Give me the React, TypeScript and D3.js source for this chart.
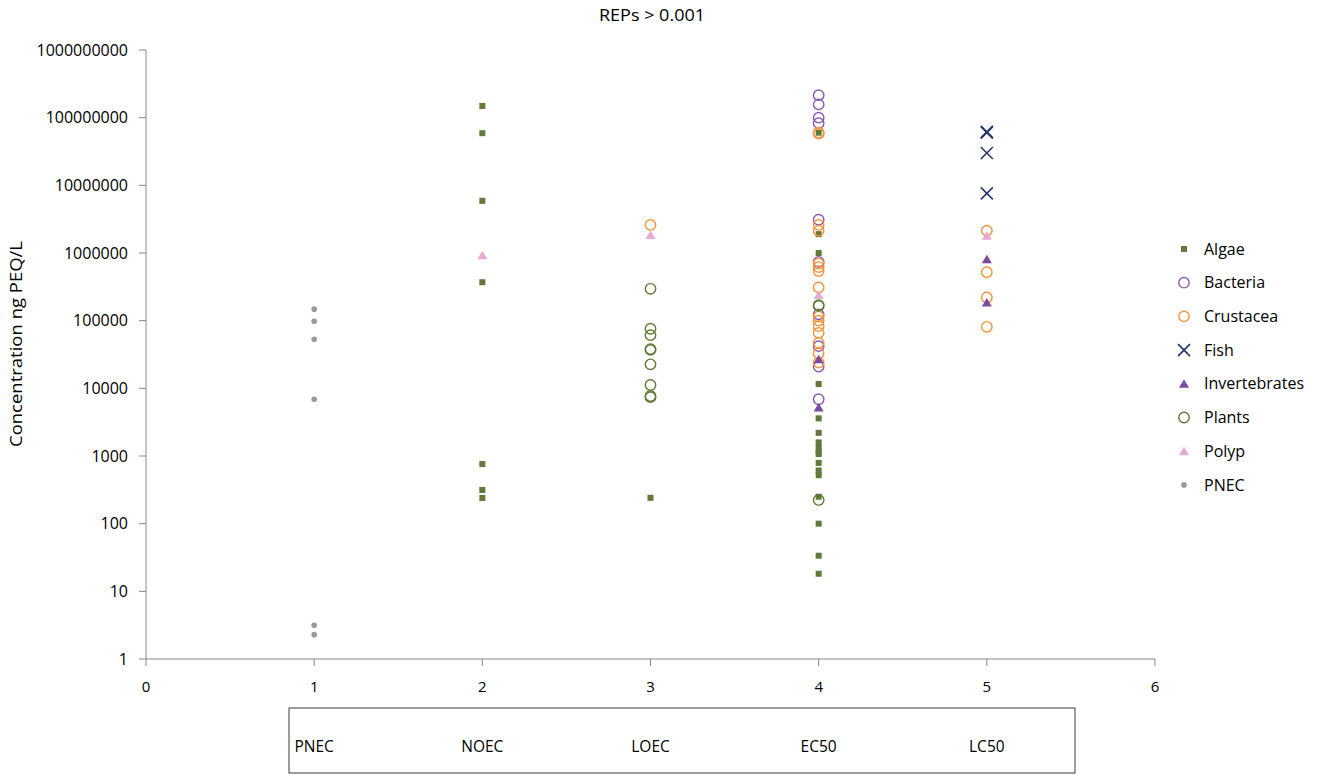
import * as d3 from 'd3';

// categories on the x axis (box under the chart)
const categories = ['PNEC', 'NOEC', 'LOEC', 'EC50', 'LC50'];
const yTicks = [1, 10, 100, 1000, 10000, 100000, 1000000, 10000000, 100000000, 1000000000];
const xTicks = [0, 1, 2, 3, 4, 5, 6];

// [x category, concentration ng PEQ/L]
const algae: [number, number][] = [
  [2, 1.49e8], [2, 5.9e7], [2, 5.9e6], [2, 3.7e5], [2, 760], [2, 315], [2, 240],
  [3, 241],
  [4, 6.0e7], [4, 1.9e6], [4, 1.0e6], [4, 11600], [4, 3600], [4, 2200], [4, 1590], [4, 1350],
  [4, 1150], [4, 1070], [4, 790], [4, 610], [4, 520], [4, 250], [4, 100], [4, 33.6], [4, 18.2],
];
const bacteria: [number, number][] = [
  [4, 2.15e8], [4, 1.57e8], [4, 1.0e8], [4, 8.3e7], [4, 3.1e6], [4, 7.4e5], [4, 1.24e5],
  [4, 4.2e4], [4, 2.1e4], [4, 6900],
];
const crustacea: [number, number][] = [
  [3, 2.6e6],
  [4, 6.0e7], [4, 5.8e7], [4, 2.6e6], [4, 2.14e6], [4, 7.0e5], [4, 6.2e5], [4, 5.4e5], [4, 3.1e5],
  [4, 1.15e5], [4, 1.0e5], [4, 8.3e4], [4, 6.6e4], [4, 4.7e4], [4, 3.3e4], [4, 2.4e4],
  [5, 2.14e6], [5, 5.2e5], [5, 2.2e5], [5, 8.1e4],
];
const fish: [number, number][] = [[5, 6.0e7], [5, 6.2e7], [5, 3.0e7], [5, 7.6e6]];
const invertebrates: [number, number][] = [[4, 2.7e4], [4, 5200], [5, 8.1e5], [5, 1.86e5]];
const plants: [number, number][] = [
  [3, 2.96e5], [3, 7.6e4], [3, 6.1e4], [3, 3.8e4], [3, 3.7e4], [3, 2.26e4], [3, 1.12e4], [3, 7700], [3, 7400],
  [4, 1.7e5], [4, 1.65e5], [4, 224],
];
const polyp: [number, number][] = [[2, 9.3e5], [3, 1.85e6], [4, 2.4e5], [5, 1.8e6]];
const pnec: [number, number][] = [[1, 1.48e5], [1, 9.8e4], [1, 5.3e4], [1, 6900], [1, 3.15], [1, 2.29]];

type Shape = 'square' | 'circle' | 'x' | 'triangle' | 'dot';
const series: { name: string; data: [number, number][]; shape: Shape; color: string }[] = [
  { name: 'Algae', data: algae, shape: 'square', color: '#61793a' },
  { name: 'Bacteria', data: bacteria, shape: 'circle', color: '#8b57b3' },
  { name: 'Crustacea', data: crustacea, shape: 'circle', color: '#f79238' },
  { name: 'Fish', data: fish, shape: 'x', color: '#22386b' },
  { name: 'Invertebrates', data: invertebrates, shape: 'triangle', color: '#7d4a9f' },
  { name: 'Plants', data: plants, shape: 'circle', color: '#5f7a35' },
  { name: 'Polyp', data: polyp, shape: 'triangle', color: '#e8a9d2' },
  { name: 'PNEC', data: pnec, shape: 'dot', color: '#9a9a9a' },
];

const W = 1321;
const H = 775;
const FONT = '"Open Sans", sans-serif';
const AXIS = '#878787';

function Marker({ shape, color, x, y }: { shape: Shape; color: string; x: number; y: number }) {
  const t = `translate(${x},${y})`;
  if (shape === 'square') return <rect transform={t} x={-3} y={-3} width={6} height={6} fill={color} />;
  if (shape === 'circle')
    return <circle transform={t} r={5.2} fill="none" stroke={color} strokeWidth={1.4} />;
  if (shape === 'dot') return <circle transform={t} r={2.8} fill={color} />;
  if (shape === 'triangle') return <path transform={t} d="M0,-4.5L5,4L-5,4Z" fill={color} />;
  return <path transform={t} d="M-6,-6L6,6M-6,6L6,-6" stroke={color} strokeWidth={1.6} fill="none" />;
}

export default function App() {
  const x = d3.scaleLinear().domain([0, 6]).range([146, 1155]);
  const y = d3.scaleLog().domain([1, 1e9]).range([659, 50]);

  return (
    <svg width={W} height={H} style={{ position: 'absolute', left: 0, top: 0, background: '#fff' }} fontFamily={FONT}>
      <text x={652} y={21} textAnchor="middle" fontSize={16} textLength={106} lengthAdjust="spacingAndGlyphs" fill="#000">
        REPs &gt; 0.001
      </text>

      {/* y axis */}
      <line x1={146} x2={146} y1={y(1e9)} y2={y(1)} stroke={AXIS} />
      {yTicks.map((t) => (
        <g key={t}>
          <line x1={139} x2={146} y1={y(t)} y2={y(t)} stroke={AXIS} />
          <text x={128} y={y(t)} dy="0.35em" textAnchor="end" fontSize={16} fill="#000">{t}</text>
        </g>
      ))}
      <text transform="translate(22,344) rotate(-90)" textAnchor="middle" fontSize={15.5} textLength={206} lengthAdjust="spacingAndGlyphs" fill="#000">
        Concentration ng PEQ/L
      </text>

      {/* x axis */}
      <line x1={x(0)} x2={x(6)} y1={659} y2={659} stroke={AXIS} />
      {xTicks.map((t) => (
        <g key={t}>
          <line x1={x(t)} x2={x(t)} y1={659} y2={666} stroke={AXIS} />
          <text x={x(t)} y={692} textAnchor="middle" fontSize={15} fill="#000">{t}</text>
        </g>
      ))}

      {/* category box */}
      <rect x={289} y={708} width={786} height={65} fill="none" stroke="#3c3c3c" />
      {categories.map((c, i) => (
        <text key={c} x={x(i + 1)} y={752} textAnchor="middle" fontSize={15.5} fill="#000">{c}</text>
      ))}

      {/* points */}
      {series.map((s) => (
        <g key={s.name}>
          {s.data.map((d, i) => (
            <Marker key={i} shape={s.shape} color={s.color} x={x(d[0])} y={y(d[1])} />
          ))}
        </g>
      ))}

      {/* legend */}
      {series.map((s, i) => {
        const ly = 249 + i * 33.7;
        return (
          <g key={s.name}>
            <Marker shape={s.shape} color={s.color} x={1184} y={ly} />
            <text x={1204} y={ly} dy="0.35em" fontSize={16} fill="#000">{s.name}</text>
          </g>
        );
      })}
    </svg>
  );
}
